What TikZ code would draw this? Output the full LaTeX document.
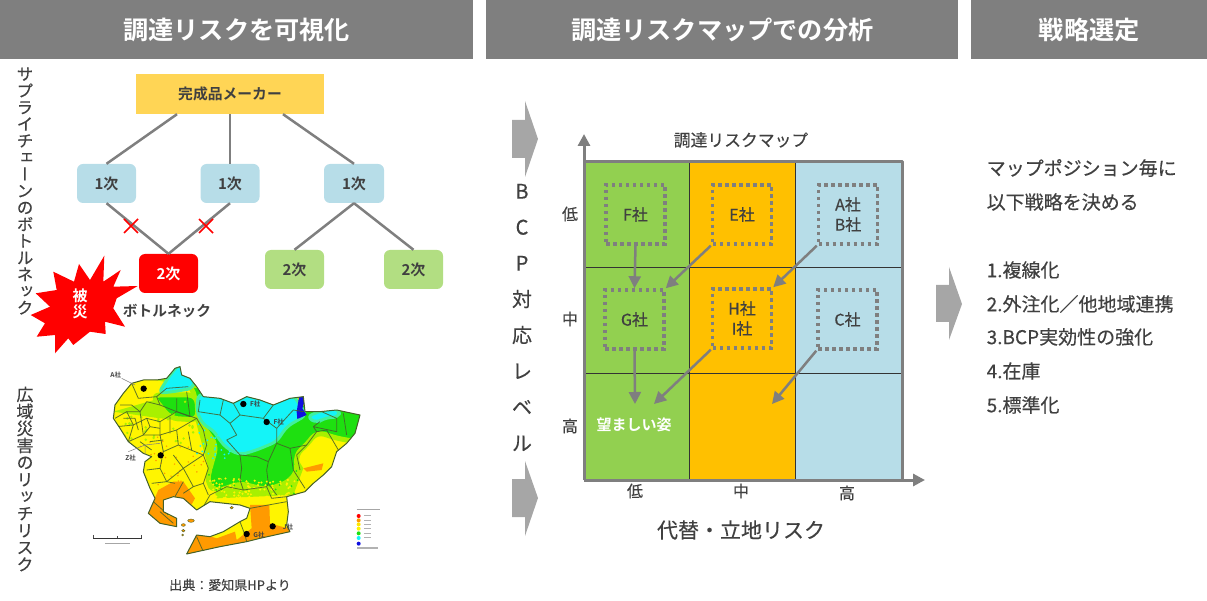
\documentclass[tikz,border=0pt]{standalone}
\usepackage{fontspec}
\usetikzlibrary{arrows.meta,calc}
\setmainfont{Noto Sans CJK JP}[BoldFont={Noto Sans CJK JP Bold}]
\newfontfamily\jpfont{Noto Sans CJK JP}[FakeBold=0.35]
\newfontfamily\jpbold{Noto Sans CJK JP Bold}
\newfontfamily\jpvert{Noto Sans CJK JP}[FakeBold=0.35,RawFeature={+vert}]
\definecolor{hdr}{HTML}{7F7F7F}
\definecolor{txt}{HTML}{404040}
\definecolor{cgreen}{HTML}{92D050}
\definecolor{corange}{HTML}{FFC000}
\definecolor{cblue}{HTML}{B7DDE8}
\definecolor{lgreen}{HTML}{B2DE82}
\definecolor{maker}{HTML}{FFD555}
\definecolor{bigarrow}{HTML}{A6A6A6}
\definecolor{mapline}{HTML}{44602A}
\definecolor{myellow}{HTML}{FFF500}
\definecolor{mlime}{HTML}{A8F000}
\definecolor{mgreen}{HTML}{1EE010}
\definecolor{mteal}{HTML}{40F0A0}
\definecolor{mcyan}{HTML}{14F4F8}
\definecolor{morange}{HTML}{FF9A00}
\definecolor{mblue}{HTML}{1010E0}
\newcommand{\fs}[2]{\fontsize{#1}{#2}\selectfont\lineskip=0pt\lineskiplimit=-40pt\relax}
\tikzset{
  hdrbar/.style={fill=hdr,inner sep=0,minimum height=59pt,text=white,font=\jpbold\fs{25.2}{28}},
  body/.style={text=txt,inner sep=0,font=\jpfont\fs{#1}{#1}},
  body/.default=16,
  makerbox/.style={fill=maker,minimum width=188pt,minimum height=40pt,inner sep=0,text=txt,font=\jpbold\fs{14.8}{16}},
  tier/.style={rounded corners=6pt,minimum width=59pt,minimum height=39pt,inner sep=0,font=\jpbold\fs{15}{16},text=txt},
  treeline/.style={draw=hdr,line width=2.5pt},
  dotbox/.style={draw=hdr,line width=3.5pt,dash pattern=on 3.5pt off 3.5pt,minimum width=59pt,minimum height=59pt,inner sep=0,
     text=txt,align=center,font=\jpfont\fs{16}{20}},
  flow/.style={draw=hdr,line width=2.5pt,-{Triangle[length=12pt,width=12pt]}},
  axisline/.style={draw=hdr,line width=3pt,-{Triangle[length=12pt,width=12pt]}},
  cross/.style={draw=red,line width=1.5pt},
  bigarr/.style={fill=bigarrow},
  vstack/.style={text=txt,inner sep=0,align=center,font=\jpvert\fs{#1}{#1}},
  mapdist/.style={draw=mapline,line width=.8pt,opacity=.85,line join=round},
  maplabel/.style={inner sep=0,text=txt,font=\jpbold\fs{6.5}{6.5}},
  mapgreen/.style={fill=mgreen,draw=mlime,line width=5pt,line join=round,rounded corners=8pt},
  mapcyan/.style={fill=mcyan,draw=mteal,line width=3pt,line join=round,rounded corners=6pt},
  maporange/.style={fill=morange,line join=round},
}
\begin{document}
\begin{tikzpicture}[x=1pt,y=-1pt]
\useasboundingbox (0,0) rectangle (1207,601);
% headers
\node[hdrbar,minimum width=473pt,anchor=north west] (h1) at (0,0) {調達リスクを可視化};
\node[hdrbar,minimum width=472pt,anchor=north west] (h2) at (486,0) {調達リスクマップでの分析};
\node[hdrbar,minimum width=236pt,anchor=north west] (h3) at (971,0) {戦略選定};
% vertical texts
\node[vstack=16.7] (v1) at (25,191) {サ\\プ\\ラ\\イ\\チ\\ェ\\ー\\ン\\の\\ボ\\ト\\ル\\ネ\\ッ\\ク};
\node[vstack=17] (v2) at (25,479) {広\\域\\災\\害\\の\\リ\\ッ\\チ\\リ\\ス\\ク};
% tree
\node[makerbox] (mk) at (230,94) {完成品メーカー};
\node[tier,fill=cblue] (a1) at (106.5,183.5) {1次};
\node[tier,fill=cblue] (a2) at (230,183.5) {1次};
\node[tier,fill=cblue,minimum width=60pt] (a3) at (354,183.5) {1次};
\node[tier,fill=red,text=white] (b1) at (168.5,273.5) {2次};
\node[tier,fill=lgreen] (b2) at (294.5,269.5) {2次};
\node[tier,fill=lgreen] (b3) at (413.5,269.5) {2次};
\draw[treeline] ($(mk.south)+(-53,0)$) -- (a1.north);
\draw[treeline] (mk.south) -- (a2.north);
\draw[treeline] ($(mk.south)+(53,0)$) -- (a3.north);
\draw[treeline] (a1.south) -- (b1.north);
\draw[treeline] (a2.south) -- (b1.north);
\draw[treeline] (a3.south) -- (b2.north);
\draw[treeline] (a3.south) -- (b3.north);
\draw[cross] (124,219) -- (138,233) (124,233) -- (138,219);
\draw[cross] (199,219) -- (213,233) (199,233) -- (213,219);
\node[text=txt,inner sep=0,font=\jpbold\fs{14.7}{15}] (bn) at (167,311) {ボトルネック};
% star
\fill[red] (104.3,255.7) -- (103.3,281.7) -- (120.7,270) -- (113.3,286.7) -- (137.7,286) -- (116.7,298.3) -- (113.3,308.3)
 -- (125,326.7) -- (105,321.7) -- (105.7,334) -- (90,331.7) -- (73.3,345) -- (68.3,338.3) -- (55,353.3) -- (55,335)
 -- (36.7,336.7) -- (45,323.3) -- (30.7,315) -- (50,306.7) -- (35.7,293.3) -- (56.7,290) -- (53.3,271.7) -- (74,281.7)
 -- (79,264) -- (90,280) -- cycle;
\node[text=white,inner sep=0,align=center,font=\jpbold\fs{15}{15.5}] (hisai) at (80,304) {被\\災};
% map
\begin{scope}[shift={(60,355)},x=.33333pt,y=-.33333pt]
\def\mapoutline{(215,85) -- (250,75) -- (290,75) -- (320,70) -- (345,40) -- (360,35) -- (365,60) -- (390,70) -- (410,95) -- (430,125) -- (480,130) -- (520,145) -- (560,125) -- (600,135) -- (640,150) -- (690,130) -- (730,125) -- (735,170) -- (780,170) -- (830,165) -- (900,180) -- (885,235) -- (860,265) -- (830,290) -- (815,335) -- (790,360) -- (760,385) -- (735,410) -- (680,425) -- (685,470) -- (680,510) -- (690,530) -- (600,550) -- (560,560) -- (480,575) -- (380,597) -- (410,540) -- (450,545) -- (490,530) -- (540,500) -- (560,490) -- (570,460) -- (540,450) -- (450,440) -- (410,465) -- (370,430) -- (340,425) -- (310,435) -- (310,470) -- (350,490) -- (350,515) -- (300,505) -- (265,475) -- (285,430) -- (270,400) -- (250,350) -- (255,320) -- (275,305) -- (250,295) -- (205,260) -- (180,220) -- (160,190) -- (165,150) -- (190,115) -- cycle}
\begin{scope}
\clip \mapoutline;
\fill[myellow] (100,0) rectangle (950,620);
\fill[mlime] (405,190) -- (470,430) -- (700,420) -- (730,340) -- (700,290) -- (420,170) -- cycle;
\fill[mlime] (160,170) -- (300,130) -- (420,200) -- (300,190) -- cycle;
\path[mapgreen] (250,60) -- (330,50) -- (400,100) -- (410,180) -- (440,230) -- (470,270) -- (450,340) -- (440,385) -- (470,410) -- (540,385) -- (620,405) -- (690,380) -- (715,340) -- (705,300) -- (740,270) -- (770,230) -- (830,250) -- (890,260) -- (920,170) -- (760,150) -- (500,110) -- cycle;
\path[mapgreen] (275,120) -- (410,120) -- (415,195) -- (330,190) -- cycle;
\path[mapcyan] (295,115) -- (330,60) -- (360,25) -- (405,70) -- (400,100) -- (340,110) -- cycle;
\path[mapcyan] (415,115) -- (480,125) -- (520,140) -- (560,115) -- (640,140) -- (700,120) -- (740,180) -- (680,215) -- (650,260) -- (590,285) -- (540,300) -- (500,280) -- (475,250) -- (460,225) -- (430,210) -- (410,170) -- cycle;
\path[mapcyan] (740,185) -- (790,165) -- (835,160) -- (840,185) -- (790,190) -- (770,205) -- cycle;
\fill[mblue] (718,120) -- (740,120) -- (727,160) -- (740,180) -- (712,192) -- (710,170) -- cycle;
\path[maporange] (255,485) -- (280,440) -- (295,405) -- (340,380) -- (370,380) -- (405,430) -- (380,475) -- (340,435) -- (315,440) -- (320,480) -- (360,490) -- (355,525) -- (280,510) -- cycle;
\path[maporange] (375,605) -- (405,530) -- (470,550) -- (525,530) -- (530,555) -- (575,520) -- (570,450) -- (628,450) -- (630,505) -- (700,525) -- (640,570) -- cycle;
\fill[morange] (730,340) -- (790,325) -- (785,345) -- (740,350) -- cycle;
\pgfmathsetseed{7}
\foreach \i in {1,...,90}{\fill[myellow] ({450+260*rnd},{370+60*rnd}) circle (3.5);}
\foreach \i in {1,...,50}{\fill[mgreen] ({445+280*rnd},{300+120*rnd}) circle (3);}
\foreach \i in {1,...,40}{\fill[mcyan] ({410+100*rnd},{200+110*rnd}) circle (3);}
\foreach \i in {1,...,35}{\fill[morange] ({240+200*rnd},{240+150*rnd}) circle (2.5);}
\foreach \i in {1,...,40}{\fill[mlime] ({170+230*rnd},{140+130*rnd}) circle (4);}
\draw[mapdist] (215,85) -- (235,130) -- (290,125) -- (320,100) -- (385,95);
\draw[mapdist] (290,125) -- (300,150) -- (350,170) -- (410,190) -- (430,225) -- (440,270) -- (430,300) -- (445,340) -- (430,385) -- (445,420);
\draw[mapdist] (165,190) -- (200,170) -- (240,170) -- (260,140) -- (300,150);
\draw[mapdist] (170,215) -- (220,210) -- (260,190) -- (300,200) -- (350,170);
\draw[mapdist] (205,260) -- (250,240) -- (300,240) -- (350,225) -- (410,190);
\draw[mapdist] (240,170) -- (250,240) (200,170) -- (220,210) -- (205,260) (300,200) -- (300,240) -- (310,290) -- (355,270) -- (350,225);
\draw[mapdist] (180,150) -- (215,150) -- (240,170) (190,190) -- (225,190) (260,190) -- (270,215) -- (300,220) (270,215) -- (250,240) (225,190) -- (235,225) (330,185) -- (330,235) (270,260) -- (310,255) (240,260) -- (275,285);
\draw[mapdist] (355,270) -- (430,300) (310,290) -- (300,340) -- (260,345) (300,340) -- (320,380) -- (275,385) (320,380) -- (370,340) -- (430,300);
\draw[mapdist] (370,340) -- (400,395) -- (430,385) (400,395) -- (370,415) (345,385) -- (320,380) (340,300) -- (370,340) (385,230) -- (395,285) (350,130) -- (350,170) (380,110) -- (390,185) -- (350,170);
\draw[mapdist] (420,135) -- (415,170) -- (480,180) -- (490,135) (480,180) -- (510,205) -- (540,180) -- (520,145) (540,180) -- (610,190) -- (640,150) (610,190) -- (650,220) -- (700,165) -- (730,170);
\draw[mapdist] (510,205) -- (530,240) -- (500,255) -- (540,300) -- (545,340) -- (540,375) -- (550,405) (540,300) -- (590,305) -- (625,320) -- (620,345) -- (625,385) -- (650,420);
\draw[mapdist] (625,320) -- (650,265) -- (690,280) -- (700,345) -- (735,400) (650,265) -- (650,220) (690,280) -- (740,270) -- (770,230) -- (800,225) -- (835,285);
\draw[mapdist] (740,270) -- (710,300) -- (720,345) (770,230) -- (760,215) -- (830,230) -- (830,190) -- (785,170) (780,200) -- (760,215) (850,175) -- (860,240);
\draw[mapdist] (550,405) -- (500,395) -- (450,420) -- (430,455) (550,405) -- (620,395) -- (625,385) (620,395) -- (635,430) -- (680,425);
\draw[mapdist] (570,460) -- (625,450) -- (680,440) (280,440) -- (325,480) (370,380) -- (345,425) (300,470) -- (340,505) (410,545) -- (430,590) (540,500) -- (555,540) -- (560,560);
\end{scope}
\draw[draw=mapline,line width=1pt,line join=round] \mapoutline;
\fill[morange,draw=mapline,line width=.4pt] (393,497) ellipse (10 and 5) (370,510) ellipse (6 and 4) (370,527) ellipse (5 and 4) (368,540) ellipse (3 and 3) (515,458) ellipse (5 and 4);
\draw[gray,line width=.5pt] (185,70) -- (225,90) (205,290) -- (255,270) -- (300,265) (255,270) -- (255,300);
\fill[black] (251,101) circle (9.5) (550,147) circle (9.5) (620,201) circle (9.5) (302,301) circle (9.5) (638,514) circle (9.5) (560,537) circle (9.5);
\node[maplabel] (l1) at (167,60) {A社};
\node[maplabel] (l2) at (586,148) {F社};
\node[maplabel] (l3) at (656,202) {F社};
\node[maplabel] (l4) at (212,308) {Z社};
\node[maplabel] (l5) at (684,516) {J社};
\node[maplabel] (l6) at (597,541) {G社};
% scale bar
\draw[black!70,line width=.7pt] (100,540) -- (100,550) (172,544) -- (172,550) (245,540) -- (245,550);
\draw[black!80,line width=1pt] (100,550) -- (245,550);
\draw[gray!70,line width=1pt] (135,566) -- (210,566);
% legend
\draw[gray!70,line width=1.5pt] (890,463) -- (960,463);
\foreach \yy/\cc in {483/red,496/morange,508/yellow!90!orange,521/myellow,535/mgreen,549/mcyan,566/mblue}{\fill[\cc] (896,\yy) circle (6);}
\foreach \yy in {483,496,508,521,535,549}{\draw[gray!60,line width=1pt] (912,\yy) -- (932,\yy);}
\draw[gray!60,line width=1.3pt] (892,579) -- (955,579);
\end{scope}
\node[body=13] (src) at (230,585) {出典：愛知県HPより};
% big arrows
\fill[bigarr] (512,120) -- (525,120) -- (525,101) -- (538,139) -- (525,177) -- (525,158) -- (512,158) -- cycle;
\fill[bigarr] (512,479) -- (525,479) -- (525,461) -- (538,498) -- (525,536) -- (525,517) -- (512,517) -- cycle;
\fill[bigarr] (936,285) -- (949,285) -- (949,267) -- (962,304) -- (949,340) -- (949,322) -- (936,322) -- cycle;
% BCP
\node[text=txt,inner sep=0,align=center,font=\jpfont\fs{20}{36}] (bcp) at (522,317.5) {B\\C\\P\\対\\応\\レ\\ベ\\ル};
% matrix
\fill[cgreen] (584,162) rectangle (689.5,480);
\fill[corange] (689.5,162) rectangle (795.5,480);
\fill[cblue] (795.5,162) rectangle (902,480);
\draw[black!80,line width=.8pt] (689.5,162) -- (689.5,480) (795.5,162) -- (795.5,480) (584,267) -- (902,267) (584,373) -- (902,373);
\coordinate (org) at (584,480);
\coordinate (ytip) at (584,134);
\coordinate (xtip) at (925,480);
\coordinate (tl) at (584,162);
\coordinate (tr) at (902,162);
\coordinate (br) at (902,480);
\draw[draw=hdr,line width=3pt,line join=round] (tl) -- (tr) -- (br);
\draw[axisline] (org) -- (ytip);
\draw[axisline] (org) -- (xtip);
\node[body=16.8] (title) at (741,140) {調達リスクマップ};
\node[dotbox] (f) at (635.5,214.5) {F社};
\node[dotbox] (e) at (742,214.5) {E社};
\node[dotbox] (ab) at (848,214.5) {A社\\B社};
\node[dotbox] (g) at (634.5,319.5) {G社};
\node[dotbox] (hi) at (742,318.5) {H社\\I社};
\node[dotbox] (c) at (847.5,319.5) {C社};
\coordinate (gt) at (635,404);
\coordinate (ht) at (654,404);
\coordinate (ct) at (772,404);
\draw[flow] (f.south) -- (g.north);
\draw[flow] (e.south west) -- (g.north east);
\draw[flow] (ab.south west) -- (hi.north east);
\draw[flow] (g.south) -- (gt);
\draw[flow] (hi.south west) -- (ht);
\draw[flow] (c.south west) -- (ct);
\node[inner sep=0,text=white,font=\jpbold\fs{15}{15}] (goal) at (634,425) {望ましい姿};
\node[body=16] (y1) at (570,214) {低};
\node[body=16] (y2) at (570,319) {中};
\node[body=16] (y3) at (570,426) {高};
\node[body=16] (x1) at (635,491) {低};
\node[body=16] (x2) at (741,491) {中};
\node[body=16] (x3) at (847,493) {高};
\node[body=21] (xl) at (741,530) {代替・立地リスク};
% strategy
\node[body=19,anchor=west] (s1) at (986.5,168) {マップポジション毎に};
\node[body=19,anchor=west] (s2) at (986.5,202) {以下戦略を決める};
\node[body=19,anchor=west] (s3) at (986.5,270) {1.複線化};
\node[body=19,anchor=west] (s4) at (986.5,304) {2.外注化／他地域連携};
\node[body=19,anchor=west] (s5) at (986.5,337) {3.BCP実効性の強化};
\node[body=19,anchor=west] (s6) at (986.5,371) {4.在庫};
\node[body=19,anchor=west] (s7) at (986.5,405) {5.標準化};
\end{tikzpicture}
\end{document}
